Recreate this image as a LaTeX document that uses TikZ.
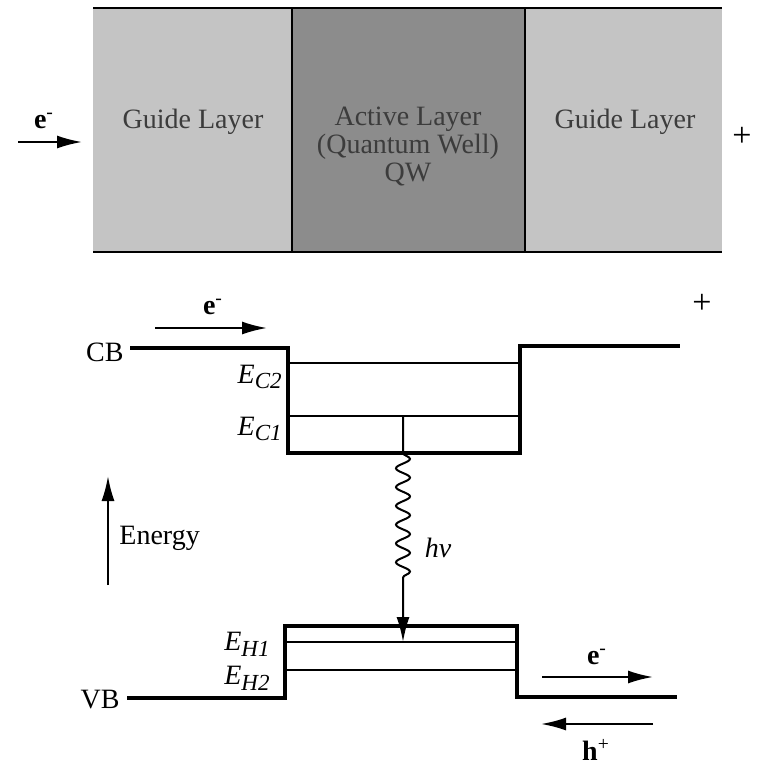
\documentclass[tikz,border=0pt]{standalone}
\usepackage{fontspec}
\setmainfont{Liberation Serif}
\usetikzlibrary{arrows.meta,decorations.pathmorphing}
\definecolor{guidefill}{RGB}{196,196,196}
\definecolor{activefill}{RGB}{140,140,140}
\definecolor{boxtext}{RGB}{60,60,60}
\newcommand{\lvl}[1]{\textit{E}\raisebox{-0.45ex}{\fontsize{11.5}{12}\selectfont\textit{#1}}}
\begin{document}
\begin{tikzpicture}[x=0.5pt,y=-0.5pt,
  band/.style={line width=1.8pt},
  level/.style={line width=1.1pt},
  arr/.style={line width=1pt,-{Latex[length=12.5pt,width=6.5pt]}},
  lbl/.style={font=\fontsize{14}{16}\selectfont, inner sep=0pt},
  boxlbl/.style={lbl, text=boxtext, align=center},
  pluslbl/.style={font=\fontsize{17}{18}\selectfont, inner sep=0pt}]
\useasboundingbox (0,0) rectangle (760,767);

% ---------- layer structure ----------
\fill[guidefill] (93,8) rectangle (292,252);
\fill[activefill] (292,8) rectangle (525,252);
\fill[guidefill] (525,8) rectangle (722,252);
\draw[line width=1.4pt] (93,8) -- (722,8);
\draw[line width=1.4pt] (93,252) -- (722,252);
\draw[line width=1pt] (292,8) -- (292,252);
\draw[line width=1pt] (525,8) -- (525,252);

\node[boxlbl] (g1) at (193,122) {Guide Layer};
\node[boxlbl] (act) at (408,146) {Active Layer\\[-2pt](Quantum Well)\\[-2pt]QW};
\node[boxlbl] (g2) at (625,122) {Guide Layer};

\coordinate (ea0) at (18,142);
\coordinate (ea1) at (82,142);
\draw[arr] (ea0) -- (ea1);
\node[lbl] (etop) at (44,121) {\textbf{e}\textsuperscript{-}};
\node[pluslbl] (ptop) at (742,137) {+};

% ---------- band diagram ----------
% conduction band
\coordinate (cb0) at (130,348);
\coordinate (cb1) at (288,348);
\coordinate (cb2) at (288,453);
\coordinate (cb3) at (520,453);
\coordinate (cb4) at (520,346);
\coordinate (cb5) at (680,346);
\draw[band] (cb0) -- (cb1) -- (cb2) -- (cb3) -- (cb4) -- (cb5);
\coordinate (ec2a) at (288,363);
\coordinate (ec2b) at (520,363);
\coordinate (ec1a) at (288,416);
\coordinate (ec1b) at (520,416);
\draw[level] (ec2a) -- (ec2b);
\draw[level] (ec1a) -- (ec1b);

% valence band
\coordinate (vb0) at (127,698);
\coordinate (vb1) at (285,698);
\coordinate (vb2) at (285,626);
\coordinate (vb3) at (517,626);
\coordinate (vb4) at (517,697);
\coordinate (vb5) at (677,697);
\draw[band] (vb0) -- (vb1) -- (vb2) -- (vb3) -- (vb4) -- (vb5);
\coordinate (eh1a) at (285,642);
\coordinate (eh1b) at (517,642);
\coordinate (eh2a) at (285,670);
\coordinate (eh2b) at (517,670);
\draw[level] (eh1a) -- (eh1b);
\draw[level] (eh2a) -- (eh2b);

% labels
\node[lbl, anchor=east] (cbl) at (124,352) {CB};
\node[lbl, anchor=east] (vbl) at (120,700) {VB};
\node[lbl, anchor=east] (lc2) at (282,377) {\lvl{C2}};
\node[lbl, anchor=east] (lc1) at (282,429) {\lvl{C1}};
\node[lbl, anchor=east] (lh1) at (270,644) {\lvl{H1}};
\node[lbl, anchor=east] (lh2) at (270,678) {\lvl{H2}};

% photon transition
\coordinate (ph0) at (403,416);
\coordinate (ph1) at (403,453);
\coordinate (ph2) at (403,585);
\coordinate (ph3) at (403,642);
\draw[arr] (ph0) -- (ph1)
  decorate[decoration={snake, segment length=9.4pt, amplitude=3.5pt}] {-- (ph2)}
  -- (ph3);
\node[lbl] (hv) at (438,548) {\textit{hν}};

% energy axis
\coordinate (en0) at (108,585);
\coordinate (en1) at (108,476);
\draw[arr] (en0) -- (en1);
\node[lbl, anchor=west] (enl) at (119,538) {Energy};

% carriers
\coordinate (e1a) at (155,328);
\coordinate (e1b) at (267,328);
\draw[arr] (e1a) -- (e1b);
\node[lbl] (e1) at (213,307) {\textbf{e}\textsuperscript{-}};
\node[pluslbl] (p2) at (702,304) {+};

\coordinate (e2a) at (542,677);
\coordinate (e2b) at (653,677);
\draw[arr] (e2a) -- (e2b);
\node[lbl] (e2) at (597,657) {\textbf{e}\textsuperscript{-}};

\coordinate (h1a) at (653,724);
\coordinate (h1b) at (541,724);
\draw[arr] (h1a) -- (h1b);
\node[lbl] (h1) at (596,750) {\textbf{h}\textsuperscript{+}};
\end{tikzpicture}
\end{document}
